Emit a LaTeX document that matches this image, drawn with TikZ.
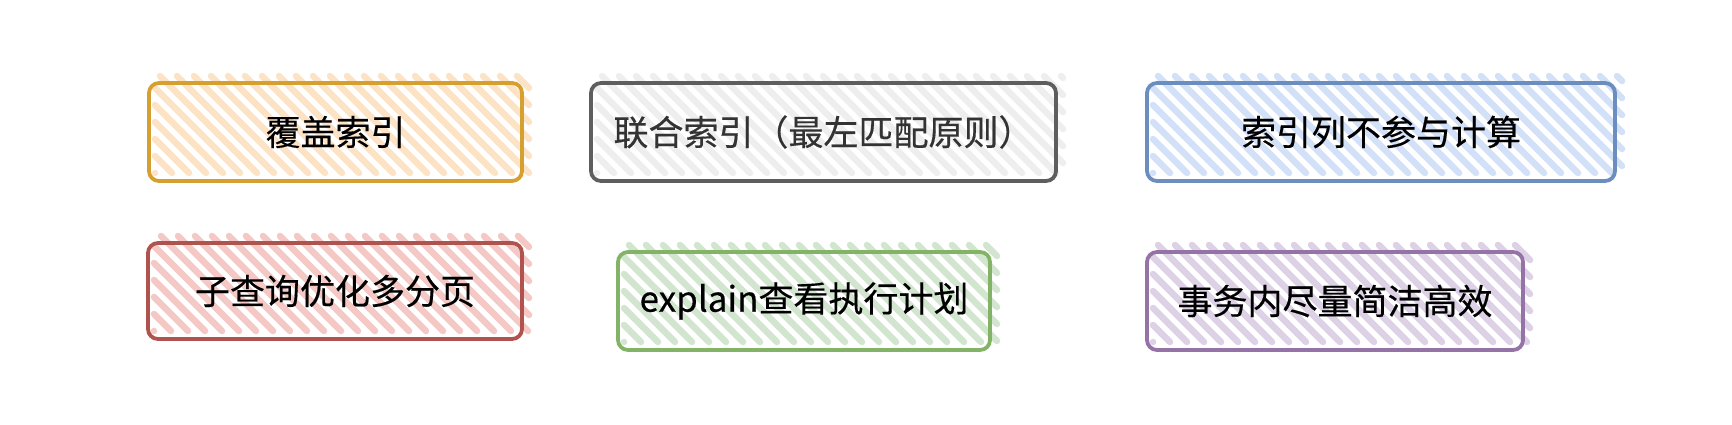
\documentclass[tikz,border=0pt]{standalone}
\usepackage{fontspec}
\setmainfont{Noto Sans CJK SC}
\newfontfamily\boxfont{Noto Sans CJK SC}[FakeBold=0.4]
\definecolor{orS}{HTML}{D6A030}
\definecolor{orF}{HTML}{FDE3C6}
\definecolor{grS}{HTML}{5E5E5E}
\definecolor{grF}{HTML}{EEEEEE}
\definecolor{blS}{HTML}{6C8EBF}
\definecolor{blF}{HTML}{D2E1F8}
\definecolor{rdS}{HTML}{B0524E}
\definecolor{rdF}{HTML}{F4C8C5}
\definecolor{gnS}{HTML}{82B366}
\definecolor{gnF}{HTML}{D2E6CF}
\definecolor{puS}{HTML}{9673A6}
\definecolor{puF}{HTML}{DDD1E5}
\newcommand\hatchrect[5]{%
  \pgfmathtruncatemacro\kmin{#1-#4}%
  \pgfmathtruncatemacro\knext{#1-#4+17}%
  \pgfmathtruncatemacro\kmax{#3-#2}%
  \foreach \k in {\kmin,\knext,...,\kmax}{%
    \pgfmathsetmacro\xa{max(#1,#2+\k)}%
    \pgfmathsetmacro\xb{min(#3,#4+\k)}%
    \draw[#5, line width=6.5pt, line cap=round] (\xa,\xa-\k) -- (\xb,\xb-\k);
  }%
}
\begin{document}
\begin{tikzpicture}[x=1pt,y=-1pt,
  box/.style={draw, line width=3.8pt, rounded corners=10pt, inner sep=0pt,
    font=\boxfont\fontsize{35}{42}\selectfont}]
\useasboundingbox (0,0) rectangle (1732,424);
% hatches
\hatchrect{155}{76}{529}{173}{orF}
\hatchrect{597}{76}{1063}{173}{grF}
\hatchrect{1153}{76}{1622}{173}{blF}
\hatchrect{154}{236}{529}{331}{rdF}
\hatchrect{624}{245}{997}{342}{gnF}
\hatchrect{1153}{245}{1530}{342}{puF}
% boxes
\node[box, draw=orS, minimum width=373pt, minimum height=98pt] (b1) at (335.5,132) {覆盖索引};
\node[box, draw=grS, text=black!80, minimum width=465pt, minimum height=98pt] (b2) at (823.5,132) {联合索引（最左匹配原则）};
\node[box, draw=blS, minimum width=468pt, minimum height=98pt] (b3) at (1381,132) {索引列不参与计算};
\node[box, draw=rdS, minimum width=374pt, minimum height=96pt] (b4) at (335,291) {子查询优化多分页};
\node[box, draw=gnS, minimum width=372pt, minimum height=98pt] (b5) at (804,301) {explain查看执行计划};
\node[box, draw=puS, minimum width=376pt, minimum height=98pt] (b6) at (1335,301) {事务内尽量简洁高效};
\end{tikzpicture}
\end{document}
